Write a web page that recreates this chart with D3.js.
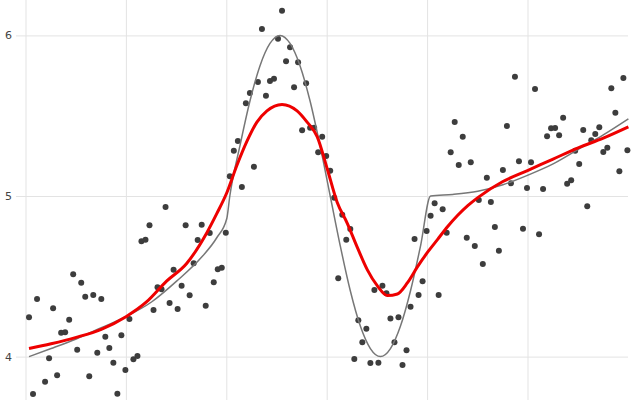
<!DOCTYPE html>
<html>
<head>
<meta charset="utf-8">
<script src="https://cdn.jsdelivr.net/npm/d3@7"></script>
<style>
  body { margin: 0; background: #fff; }
  svg { display: block; }
</style>
</head>
<body>
<svg id="chart"></svg>
<script>
var width = 640, height = 400;

// sample positions (evenly spaced)
var pointX = [0.03,0.07,0.11,0.15,0.19,0.23,0.27,0.31,0.35,0.39,0.43,0.47,0.51,0.55,0.59,0.63,0.67,0.71,0.75,0.79,
  0.83,0.87,0.91,0.95,0.99,1.03,1.07,1.11,1.15,1.19,1.23,1.27,1.31,1.35,1.39,1.43,1.47,1.51,1.55,1.59,
  1.63,1.67,1.71,1.75,1.79,1.83,1.87,1.91,1.95,1.99,2.03,2.07,2.11,2.15,2.19,2.23,2.27,2.31,2.35,2.39,
  2.43,2.47,2.51,2.55,2.59,2.63,2.67,2.71,2.75,2.79,2.83,2.87,2.91,2.95,2.99,3.03,3.07,3.11,3.15,3.19,
  3.23,3.27,3.31,3.35,3.39,3.43,3.47,3.51,3.55,3.59,3.63,3.67,3.71,3.75,3.79,3.83,3.87,3.91,3.95,3.99,
  4.03,4.07,4.11,4.15,4.19,4.23,4.27,4.31,4.35,4.39,4.43,4.47,4.51,4.55,4.59,4.63,4.67,4.71,4.75,4.79,
  4.83,4.87,4.91,4.95,4.99,5.03,5.07,5.11,5.15,5.19,5.23,5.27,5.31,5.35,5.39,5.43,5.47,5.51,5.55,5.59,
  5.63,5.67,5.71,5.75,5.79,5.83,5.87,5.91,5.95,5.99];

var pointY = [4.245,3.767,4.359,3.68,3.844,3.989,4.301,3.884,4.149,4.151,4.230,4.512,4.043,4.460,4.373,3.877,4.384,4.024,4.359,4.124,
  4.054,3.962,3.769,4.133,3.917,4.234,3.983,4.004,4.718,4.728,4.818,4.290,4.432,4.419,4.932,4.334,4.541,4.296,4.441,4.818,
  4.382,4.581,4.726,4.821,4.317,4.770,4.463,4.544,4.554,4.771,5.123,5.282,5.342,5.056,5.577,5.641,5.182,5.710,6.040,5.625,
  5.716,5.730,5.979,6.154,5.839,5.926,5.677,5.833,5.409,5.702,5.425,5.425,5.272,5.369,5.249,5.158,4.989,4.488,4.884,4.728,
  4.795,3.985,4.226,4.089,4.174,3.960,4.415,3.962,4.441,4.394,4.238,4.089,4.245,3.948,4.039,4.311,4.732,4.384,4.469,4.782,
  4.877,4.955,4.384,4.917,4.771,5.272,5.461,5.193,5.369,4.740,5.210,4.689,4.975,4.577,5.114,4.963,4.807,4.659,5.162,5.436,
  5.079,5.743,5.216,4.796,5.050,5.210,5.666,4.762,5.044,5.372,5.422,5.423,5.378,5.488,5.077,5.098,5.282,5.199,5.411,4.936,
  5.347,5.386,5.428,5.274,5.301,5.671,5.519,5.154,5.735,5.285];

// underlying curve (grey)
var trueX = [0.03,0.25,0.5,0.75,1.0,1.25,1.5,1.75,1.9,2.0,
  2.03,2.13,2.23,2.33,2.43,2.53,2.63,2.73,2.83,2.93,3.03,3.13,3.23,3.33,3.43,3.53,3.63,3.73,3.83,3.93,4.03,
  4.25,4.5,4.75,5.0,5.25,5.5,5.75,6.0];
var trueY = [4.00,4.05,4.11,4.18,4.25,4.34,4.47,4.62,4.74,4.86,
  5.00,5.31,5.59,5.81,5.95,6.00,5.95,5.81,5.59,5.31,5.00,4.69,4.41,4.19,4.05,4.00,4.05,4.19,4.41,4.69,5.00,
  5.01,5.03,5.07,5.13,5.20,5.29,5.38,5.48];

// smoothed fit (red)
var fitX = [0.03,0.25,0.5,0.75,1.0,1.2,1.4,1.6,1.8,1.9,2.0,2.1,2.2,2.3,2.4,2.55,2.7,2.8,2.9,3.0,
  3.1,3.2,3.3,3.4,3.5,3.6,3.7,3.8,3.9,4.0,4.1,4.2,4.3,4.4,4.5,4.75,5.0,5.25,5.5,5.75,6.0];
var fitY = [4.05,4.08,4.12,4.17,4.25,4.34,4.47,4.58,4.77,4.89,5.02,5.19,5.34,5.46,5.53,5.57,5.53,5.46,5.37,5.17,
  4.96,4.83,4.68,4.54,4.44,4.38,4.39,4.46,4.56,4.65,4.73,4.81,4.88,4.94,4.99,5.09,5.16,5.23,5.30,5.36,5.43];

var xTicks = [0, 1, 2, 3, 4, 5];
var yTicks = [4, 5, 6];

var svg = d3.select("#chart")
    .attr("width", width)
    .attr("height", height);

var x = d3.scaleLinear().domain([0, 6]).range([26, 628.4]);
var y = d3.scaleLinear().domain([4, 6]).range([356.6, 35.4]);

// grid
svg.append("g")
  .selectAll("line")
  .data(xTicks)
  .enter()
  .append("line")
    .attr("x1", d => x(d)).attr("x2", d => x(d))
    .attr("y1", 0).attr("y2", height)
    .attr("stroke", "#e3e3e3")
    .attr("stroke-width", 1);

var yAxis = d3.axisLeft(y)
    .tickValues(yTicks)
    .tickFormat(d3.format("d"))
    .tickSize(-(628 - 16))
    .tickPadding(5);

svg.append("g")
    .attr("transform", "translate(16,0)")
    .call(yAxis)
    .call(g => g.select(".domain").remove())
    .call(g => g.selectAll(".tick line").attr("stroke", "#e3e3e3"))
    .call(g => g.selectAll(".tick text")
      .attr("x", -4)
      .style("font-family", "DejaVu Sans, sans-serif")
      .style("font-size", "11px")
      .style("fill", "#444"));

var pts = pointX.map((d, i) => [d, pointY[i]]);

svg.append("g")
  .selectAll("circle")
  .data(pts)
  .enter()
  .append("circle")
    .attr("cx", d => x(d[0]))
    .attr("cy", d => y(d[1]))
    .attr("r", 3)
    .style("fill", "#3d3d3d");

var line = d3.line()
    .x(d => x(d[0]))
    .y(d => y(d[1]))
    .curve(d3.curveMonotoneX);

svg.append("path")
    .datum(trueX.map((d, i) => [d, trueY[i]]))
    .attr("d", line)
    .attr("fill", "none")
    .attr("stroke", "#777")
    .attr("stroke-width", 1.5);

svg.append("path")
    .datum(fitX.map((d, i) => [d, fitY[i]]))
    .attr("d", line)
    .attr("fill", "none")
    .attr("stroke", "#ee0000")
    .attr("stroke-width", 3);
</script>
</body>
</html>
